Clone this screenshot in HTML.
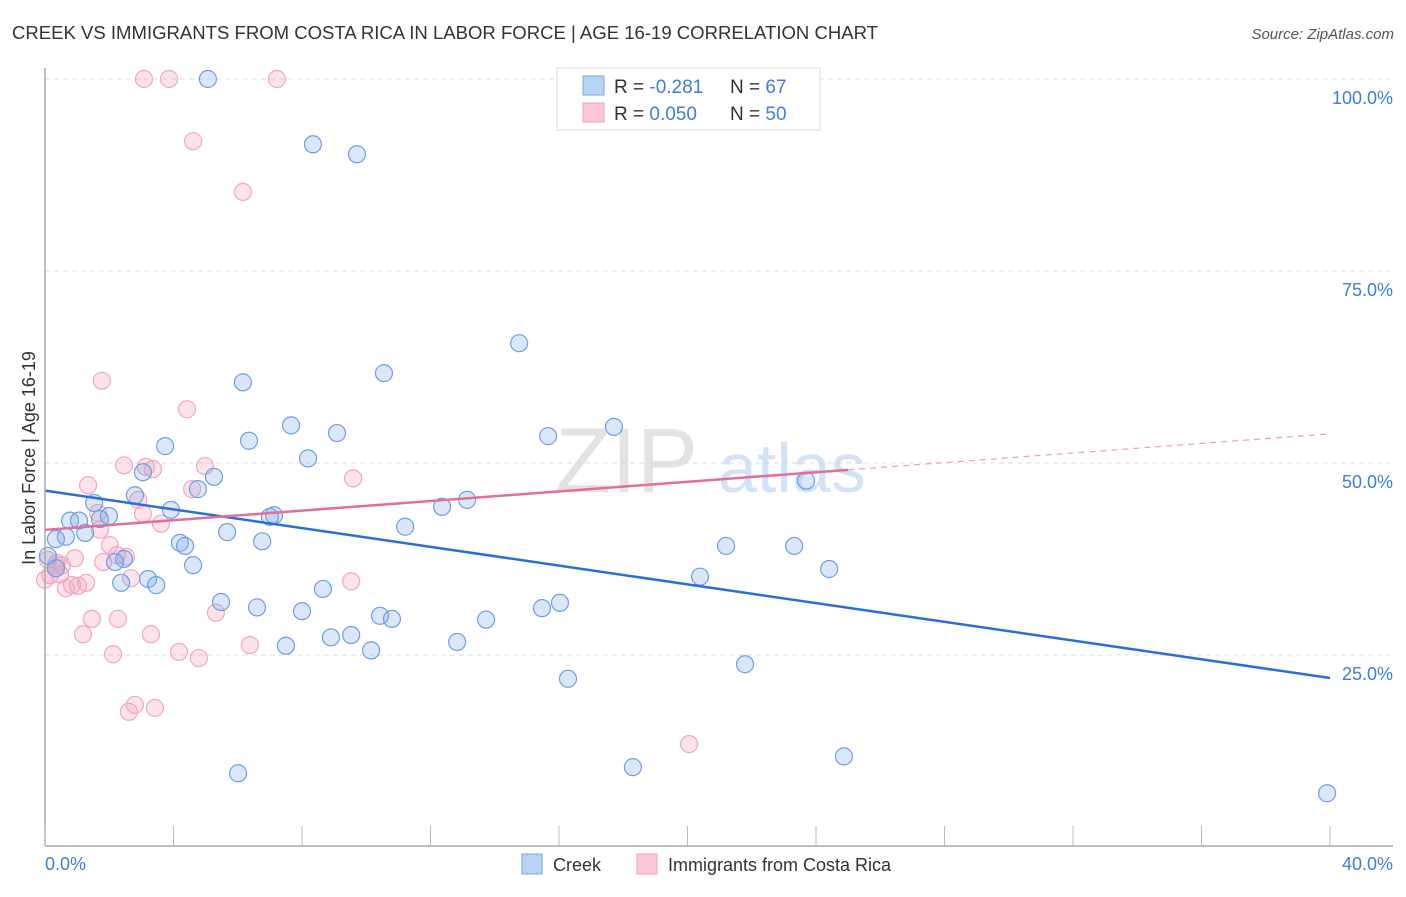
<!DOCTYPE html>
<html><head><meta charset="utf-8"><style>
body{margin:0;background:#fff;font-family:"Liberation Sans",sans-serif;}
svg text{font-family:"Liberation Sans",sans-serif;}
</style></head><body>
<svg id="chart" width="1406" height="892" xmlns="http://www.w3.org/2000/svg">
<text x="12" y="39" font-size="18" fill="#333" textLength="866" lengthAdjust="spacingAndGlyphs">CREEK VS IMMIGRANTS FROM COSTA RICA IN LABOR FORCE | AGE 16-19 CORRELATION CHART</text>
<text x="1394" y="39" font-size="15" fill="#555" text-anchor="end" font-style="italic">Source: ZipAtlas.com</text>
<g id="grid"></g>
<text x="555" y="492" font-size="92" fill="#ddd" font-family="Liberation Serif" opacity="0.8">ZIP</text>
<text x="718" y="492" font-size="70" fill="#c9dcf3" opacity="0.8">atlas</text>
<g id="pts"></g>
<g id="lines"></g>
<g id="axes"></g>
<text transform="translate(35,458) rotate(-90)" font-size="18" fill="#333" text-anchor="middle">In Labor Force | Age 16-19</text>
<g>
<rect x="557" y="68" width="263" height="62" fill="#fff" stroke="#ddd"/>
<rect x="583" y="76" width="21" height="19" fill="#b9d3f5" stroke="#7aa6e6"/>
<rect x="583" y="103" width="21" height="19" fill="#fcc8d8" stroke="#f0a0b8"/>
<text x="614" y="93" font-size="19" fill="#333">R = <tspan fill="#3d7fd9">-0.281</tspan></text>
<text x="730" y="93" font-size="19" fill="#333">N = <tspan fill="#3d7fd9">67</tspan></text>
<text x="614" y="120" font-size="19" fill="#333">R = <tspan fill="#3d7fd9">0.050</tspan></text>
<text x="730" y="120" font-size="19" fill="#333">N = <tspan fill="#3d7fd9">50</tspan></text>
</g>
<g>
<rect x="522" y="854" width="20" height="20" fill="#b9d3f5" stroke="#7aa6e6"/>
<text x="553" y="871" font-size="18" fill="#333">Creek</text>
<rect x="637" y="854" width="20" height="20" fill="#fcc8d8" stroke="#f0a0b8"/>
<text x="668" y="871" font-size="18" fill="#333">Immigrants from Costa Rica</text>
</g>
</svg>
<script>
const xTicks=[0,4,8,12,16,20,24,28,32,36,40];
const yTicks=[25,50,75,100];
const yTickLabels=["25.0%","50.0%","75.0%","100.0%"];
const xEndLabels=["0.0%","40.0%"];
const creekX=[5.07,8.34,9.71,14.76,10.55,6.16,17.71,15.66,7.66,9.09,6.35,3.74,8.19,3.05,5.26,4.76,23.69,2.80,1.53,13.14,12.36,3.92,1.99,0.78,1.06,1.71,7.13,7.00,11.21,5.67,1.25,0.34,0.65,4.20,4.36,6.76,21.20,23.32,2.46,2.18,4.61,0.09,0.34,24.41,20.39,3.21,2.37,3.46,8.65,5.48,6.60,16.03,8.00,15.47,10.43,10.80,13.73,8.90,9.53,7.50,12.83,10.15,21.79,16.28,6.01,18.30,24.87,39.91];
const creekY=[100,91.5,90.2,65.6,61.7,60.5,54.7,53.5,54.9,53.9,52.9,52.2,50.6,48.8,48.2,46.6,47.7,45.8,44.8,45.2,44.3,43.9,43.1,42.5,42.5,42.7,43.2,43.0,41.7,41.0,40.9,40.1,40.4,39.6,39.2,39.8,39.2,39.2,37.5,37.1,36.7,37.9,36.3,36.2,35.2,34.9,34.4,34.1,33.6,31.9,31.2,31.8,30.7,31.1,30.1,29.7,29.6,27.3,27.6,26.2,26.7,25.6,23.8,21.9,9.6,10.4,11.8,7.0];
const costaX=[3.08,3.86,7.22,4.61,6.16,1.77,4.42,2.46,3.36,3.14,4.98,1.34,4.58,9.59,2.90,1.65,3.05,3.61,1.71,2.02,2.24,2.52,0.09,0.93,0.34,1.81,2.68,0.47,0.84,1.28,0.65,1.03,9.53,5.32,1.46,2.27,1.18,3.30,6.38,4.17,4.79,2.12,20.05,2.80,2.61,3.42,0.16,0.37,0.53,0.0];
const costaY=[100,100,100,91.9,85.3,60.7,57.0,49.7,49.2,49.5,49.6,47.1,46.6,48.0,45.2,43.5,43.4,42.1,41.3,39.3,38.0,37.8,37.4,37.6,36.7,37.1,35.0,35.5,34.1,34.4,33.7,34.0,34.6,30.5,29.7,29.7,27.7,27.7,26.3,25.4,24.6,25.1,13.4,18.5,17.6,18.1,35.4,37.0,36.7,34.8];
const creekTrend=[46.4,22.0];
const costaTrend=[41.3,53.8];
const costaSolidEnd=25;
const NS="http://www.w3.org/2000/svg";
const X=v=>45+v/40*1285, Y=v=>847-v/100*768;
function mk(tag,attrs,parent){const e=document.createElementNS(NS,tag);for(const k in attrs)e.setAttribute(k,attrs[k]);parent.appendChild(e);return e;}
const grid=document.getElementById('grid'),axes=document.getElementById('axes'),pts=document.getElementById('pts'),lines=document.getElementById('lines');
yTicks.forEach((t,i)=>{
 const l=mk('line',{x1:45,x2:1393,y1:Y(t),y2:Y(t),stroke:'#ddd','stroke-dasharray':'5,4'},grid);
 
 
 const tx=mk('text',{x:1393,y:Y(t)+25,'font-size':18,fill:'#3d7fd9','text-anchor':'end'},axes);
 tx.textContent=yTickLabels[i];
 
 
});
const ax=mk('line',{x1:45,x2:1393,y1:846,y2:846,stroke:'#aaa','stroke-width':1.5},axes);


const ay=mk('line',{x1:45,x2:45,y1:68,y2:846,stroke:'#aaa','stroke-width':1.5},axes);


xTicks.forEach(t=>{
 const l=mk('line',{x1:X(t),x2:X(t),y1:826,y2:846,stroke:'#bbb'},axes);
 
 
});
const l0=mk('text',{x:45,y:870,'font-size':18,fill:'#3d7fd9'},axes);l0.textContent=xEndLabels[0];


const l1=mk('text',{x:1393,y:870,'font-size':18,fill:'#3d7fd9','text-anchor':'end'},axes);l1.textContent=xEndLabels[1];


costaX.forEach((x,i)=>{
 const c=mk('circle',{cx:X(x),cy:Y(costaY[i]),r:8.5,fill:'rgba(245,160,190,0.3)',stroke:'#f0a8c0','stroke-width':1.2},pts);
 
 
});
creekX.forEach((x,i)=>{
 const c=mk('circle',{cx:X(x),cy:Y(creekY[i]),r:8.5,fill:'rgba(130,175,235,0.3)',stroke:'#6f9fe3','stroke-width':1.2},pts);
 
 
});
const bl=mk('line',{x1:X(0),y1:Y(creekTrend[0]),x2:X(40),y2:Y(creekTrend[1]),stroke:'#2a6fd6','stroke-width':2.5},lines);


const cy=x=>costaTrend[0]+(costaTrend[1]-costaTrend[0])*x/40;
const pl=mk('line',{x1:X(0),y1:Y(cy(0)),x2:X(costaSolidEnd),y2:Y(cy(costaSolidEnd)),stroke:'#e0709a','stroke-width':2.5},lines);


const pd=mk('line',{x1:X(costaSolidEnd),y1:Y(cy(costaSolidEnd)),x2:X(40),y2:Y(cy(40)),stroke:'#e8a0b8','stroke-width':1.2,'stroke-dasharray':'6,5'},lines);


</script>
</body></html>
